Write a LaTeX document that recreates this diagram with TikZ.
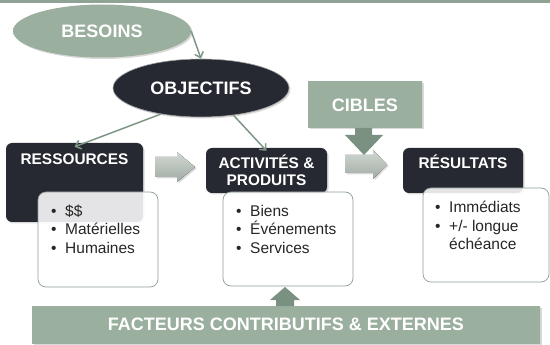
\documentclass[tikz,border=0pt]{standalone}
\usepackage{fontspec}
\setmainfont{Liberation Sans}
\usepackage{xcolor}
\usepackage{tikz}
\usetikzlibrary{shapes.geometric,shadows,arrows.meta}

\definecolor{vertclair}{HTML}{9BAF9F}
\definecolor{vertfonce}{HTML}{7A9081}
\definecolor{vertbande}{HTML}{8FA293}
\definecolor{sombre}{HTML}{262832}
\definecolor{trait}{HTML}{7D9686}
\definecolor{bordure}{HTML}{8E9E94}
\definecolor{grisclair}{HTML}{D2D8D3}
\definecolor{grisfonce}{HTML}{A0ABA3}

\newcommand{\pointliste}{\makebox[14pt][l]{\textbullet}}

\tikzset{
  ombre/.style={drop shadow={shadow xshift=1.5pt,shadow yshift=-1.5pt,opacity=.3}},
  degrade/.style={left color=vertclair,middle color=vertfonce,right color=vertclair},
  bulle/.style={ellipse,ombre,inner sep=0pt,text=white,font=\fontsize{18}{20}\selectfont\bfseries},
  encadre/.style={rectangle,ombre,degrade,inner sep=0pt,text=white,font=\fontsize{18}{20}\selectfont\bfseries},
  boite/.style={rectangle,rounded corners=6pt,fill=sombre,ombre,inner sep=0pt,text=white,font=\fontsize{15.4}{16.5}\selectfont\bfseries},
  titre/.style={inner sep=0pt,text=white,font=\fontsize{15.4}{16.5}\selectfont\bfseries},
  liste/.style={rectangle,rounded corners=8pt,draw=bordure,line width=.7pt,fill=white,fill opacity=.88,inner sep=0pt},
  puce/.style={anchor=base west,inner sep=0pt,text=black!85,font=\fontsize{15.5}{18}\selectfont},
  lien/.style={draw=trait,line width=1.5pt,-{Straight Barb[length=5pt,width=9pt]}},
  flechegrise/.style={top color=grisclair,bottom color=grisfonce,ombre},
  flechevert/.style={fill=vertfonce}
}

\begin{document}
\begin{tikzpicture}[x=1pt,y=-1pt]
  \useasboundingbox (0,0) rectangle (550,345);
  \fill[vertbande] (0,0) rectangle (550,3);

  % ellipses du haut
  \node[bulle,degrade,minimum width=178pt,minimum height=53pt] (besoins) at (102,31) {BESOINS};
  \node[bulle,fill=sombre,draw=black!35,line width=.6pt,minimum width=176pt,minimum height=58pt] (objectifs) at (201,88) {OBJECTIFS};
  \node[encadre,minimum width=114pt,minimum height=46pt] (cibles) at (365,105) {CIBLES};

  % blocs
  \node[boite,minimum width=137pt,minimum height=79pt] (ressources) at (74.5,182.5) {};
  \node[titre,anchor=base] (ressourcestitre) at ([yshift=-22pt]ressources.north) {RESSOURCES};
  \node[boite,align=center,minimum width=121pt,minimum height=45pt] (activites) at (266.5,170.5) {ACTIVITÉS \&\\PRODUITS};
  \node[boite,minimum width=120pt,minimum height=45pt] (resultats) at (463,170.5) {};
  \node[titre,anchor=base] (resultatstitre) at ([yshift=-21pt]resultats.north) {RÉSULTATS};

  \node[liste,minimum width=120pt,minimum height=95pt] (listeres) at (98,239.5) {};
  \node[liste,minimum width=130pt,minimum height=94pt] (listeact) at (288,239) {};
  \node[liste,minimum width=126pt,minimum height=94pt] (listeresu) at (486,235) {};

  \foreach \t [count=\i from 0] in {\$\$,Matérielles,Humaines}
    \node[puce] (r\i) at (51,216+18.5*\i) {\pointliste\t};
  \foreach \t [count=\i from 0] in {Biens,Événements,Services}
    \node[puce] (a\i) at (236,216+18.5*\i) {\pointliste\t};
  \node[puce] (s0) at (435,213) {\pointliste Immédiats};
  \node[puce] (s1) at (435,231.5) {\pointliste +/- longue};
  \node[puce] (s2) at (435,250) {\hspace{14pt}échéance};

  % fleches pleines
  \fill[flechegrise] (155,157) -- (177,157) -- (177,152) -- (195,167) -- (177,182) -- (177,177) -- (155,177) -- cycle;
  \fill[flechevert] (355,128) -- (372,128) -- (372,135) -- (383,135) -- (364,155) -- (345,135) -- (355,135) -- cycle;
  \fill[flechegrise] (345,155) -- (373,155) -- (373,150) -- (387,164.5) -- (373,179) -- (373,173) -- (345,173) -- cycle;

  \node[encadre,minimum width=508pt,minimum height=37pt] (facteurs) at (286,324.5) {FACTEURS CONTRIBUTIFS \& EXTERNES};
  \fill[flechevert] (276,306) -- (276,300) -- (270,300) -- (285,287) -- (300,300) -- (294,300) -- (294,306) -- cycle;

  \draw[lien] (besoins.east) -- (objectifs.north);
  \draw[lien] (objectifs.213) -- ([yshift=-4pt]ressources.north);
  \draw[lien] (objectifs.320) -- ([yshift=-3pt]activites.north);
\end{tikzpicture}
\end{document}
